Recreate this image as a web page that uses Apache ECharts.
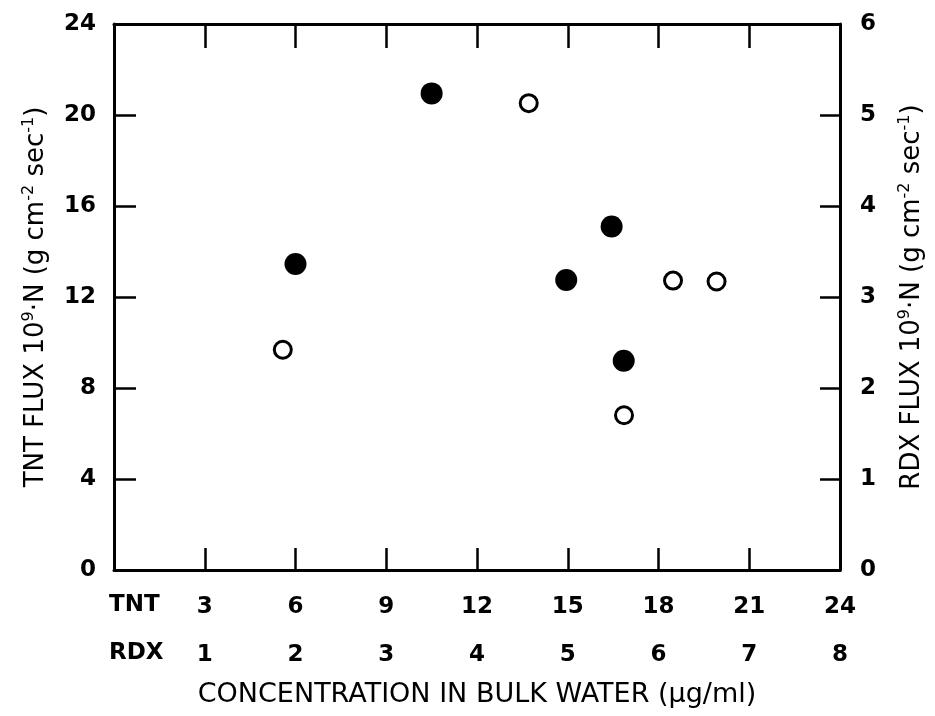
<!DOCTYPE html>
<html>
<head>
<meta charset="utf-8">
<script src="https://cdn.jsdelivr.net/npm/echarts@6/dist/echarts.min.js"></script>
<style>html,body{margin:0;padding:0;background:#fff}#c{width:935px;height:716px}</style>
</head>
<body>
<div id="c"></div>
<script>
// TNT measurements (filled circles): concentration (µg/ml), flux (10^9 g cm^-2 sec^-1)
const tntConc = [6.0, 10.5, 16.45, 14.95, 16.85];
const tntFlux = [13.45, 20.95, 15.1, 12.75, 9.2];
// RDX measurements (open circles)
const rdxConc = [1.86, 4.57, 6.16, 6.64, 5.62];
const rdxFlux = [2.42, 5.13, 3.18, 3.17, 1.70];
// axis ticks
const tntXTicks = [3, 6, 9, 12, 15, 18, 21, 24];
const rdxXTicks = [1, 2, 3, 4, 5, 6, 7, 8];
const tntYTicks = [0, 4, 8, 12, 16, 20, 24];
const rdxYTicks = [0, 1, 2, 3, 4, 5, 6];

const FONT = "'DejaVu Sans', 'Liberation Sans', Arial, sans-serif";
const chart = echarts.init(document.getElementById('c'), null, {renderer: 'canvas'});
const lineStyle = {color: '#000', width: 3};
const tickStyle = {color: '#000', width: 2.5};
const lab = {color: '#000', fontSize: 23, fontFamily: FONT, fontWeight: 'bold'};
const richName = {
  a: {fontSize: 26, fontFamily: FONT, color: '#000', fontWeight: 'normal'},
  s: {fontSize: 16, fontFamily: FONT, color: '#000', fontWeight: 'normal', padding: [0, 0, 14, 0]}
};
const nameText = '{a|FLUX 10}{s|9}{a|·N (g cm}{s|-2}{a| sec}{s|-1}{a|)}';

chart.setOption({
  animation: false,
  backgroundColor: '#fff',
  grid: {left: 114, right: 95, top: 24, bottom: 146, containLabel: false},
  xAxis: [
    {
      type: 'value', position: 'bottom', min: 0, max: 24, interval: 3,
      axisLine: {show: true, onZero: false, lineStyle},
      axisTick: {show: true, inside: true, length: 22, lineStyle: tickStyle},
      splitLine: {show: false},
      axisLabel: Object.assign({}, lab, {margin: 26,
        formatter: v => (tntXTicks.indexOf(v) >= 0 ? String(v) : '')})
    },
    {
      type: 'value', position: 'bottom', offset: 48, min: 0, max: 8, interval: 1,
      axisLine: {show: false}, axisTick: {show: false}, splitLine: {show: false},
      axisLabel: Object.assign({}, lab, {margin: 26,
        formatter: v => (rdxXTicks.indexOf(v) >= 0 ? String(v) : '')}),
      name: 'CONCENTRATION IN BULK WATER (µg/ml)',
      nameLocation: 'middle', nameGap: 63,
      nameTextStyle: {fontSize: 27, fontFamily: FONT, color: '#000', fontWeight: 'normal'}
    },
    {
      type: 'value', position: 'top', min: 0, max: 24, interval: 3,
      axisLine: {show: true, onZero: false, lineStyle},
      axisTick: {show: true, inside: true, length: 24, lineStyle: tickStyle},
      axisLabel: {show: false}, splitLine: {show: false}
    }
  ],
  yAxis: [
    {
      type: 'value', position: 'left', min: 0, max: 24, interval: 4,
      axisLine: {show: true, onZero: false, lineStyle},
      axisTick: {show: true, inside: true, length: 22, lineStyle: tickStyle},
      splitLine: {show: false},
      axisLabel: Object.assign({}, lab, {margin: 18,
        formatter: v => (tntYTicks.indexOf(v) >= 0 ? String(v) : '')}),
      name: '{a|TNT }' + nameText, nameLocation: 'middle', nameGap: 63,
      nameTextStyle: {rich: richName}
    },
    {
      type: 'value', position: 'right', min: 0, max: 6, interval: 1,
      axisLine: {show: true, onZero: false, lineStyle},
      axisTick: {show: true, inside: true, length: 20, lineStyle: tickStyle},
      splitLine: {show: false},
      axisLabel: Object.assign({}, lab, {margin: 20,
        formatter: v => (rdxYTicks.indexOf(v) >= 0 ? String(v) : '')}),
      name: '{a|RDX }' + nameText, nameLocation: 'middle', nameGap: 57,
      nameTextStyle: {rich: richName}
    }
  ],
  graphic: [
    {type: 'text', left: 109, top: 594, style: {text: 'TNT', fill: '#000', font: "bold 23px 'DejaVu Sans', Arial, sans-serif"}},
    {type: 'text', left: 109, top: 642, style: {text: 'RDX', fill: '#000', font: "bold 23px 'DejaVu Sans', Arial, sans-serif"}}
  ],
  series: [
    {
      name: 'TNT', type: 'scatter', xAxisIndex: 0, yAxisIndex: 0,
      data: tntConc.map((x, i) => [x, tntFlux[i]]),
      symbol: 'circle', symbolSize: 22,
      itemStyle: {color: '#000', borderColor: '#000', borderWidth: 0, opacity: 1}
    },
    {
      name: 'RDX', type: 'scatter', xAxisIndex: 1, yAxisIndex: 1,
      data: rdxConc.map((x, i) => [x, rdxFlux[i]]),
      symbol: 'circle', symbolSize: 17,
      itemStyle: {color: '#fff', borderColor: '#000', borderWidth: 3, opacity: 1}
    }
  ]
});
</script>
</body>
</html>
